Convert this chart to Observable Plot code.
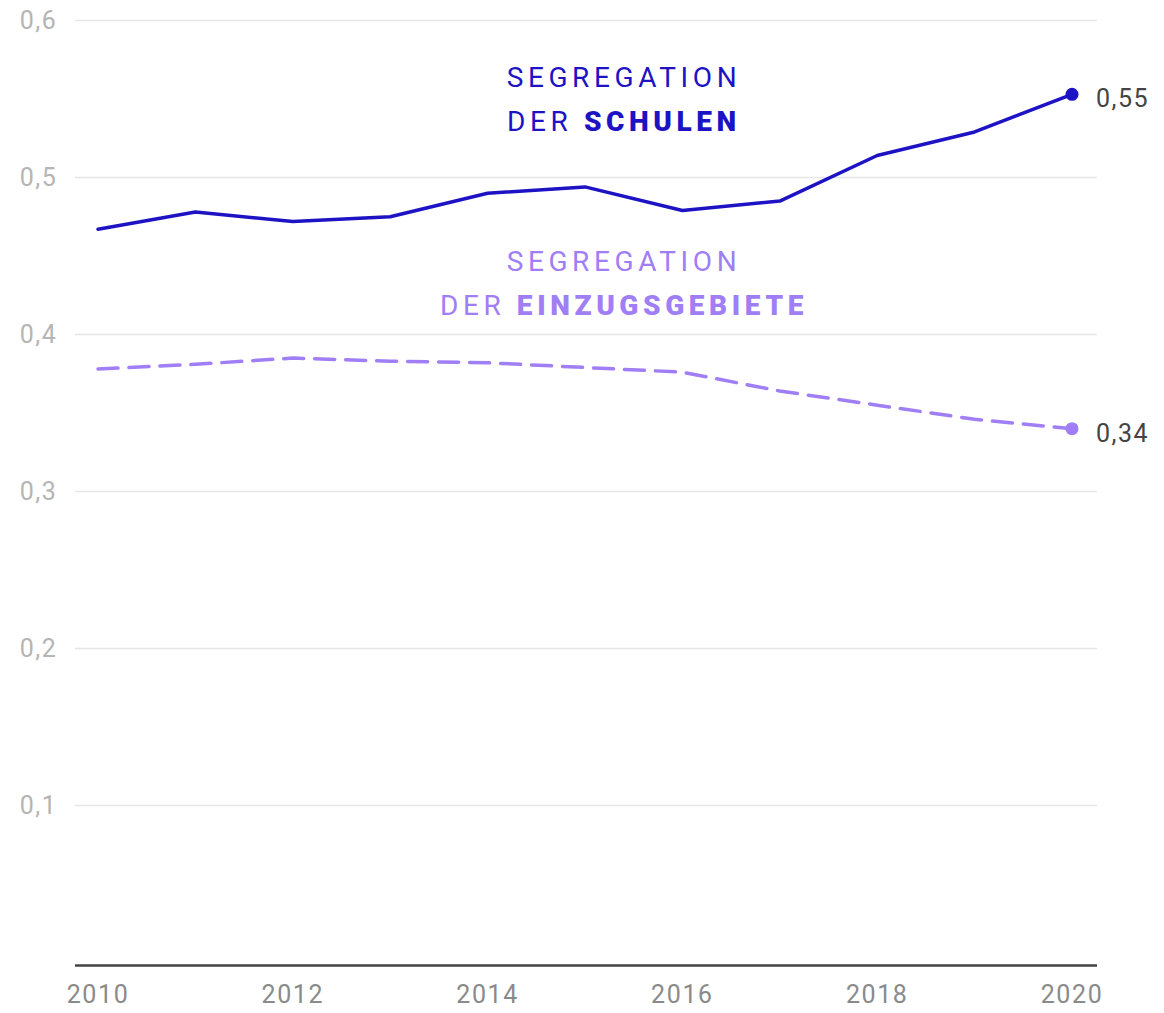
<!DOCTYPE html>
<html>
<head>
<meta charset="utf-8">
<script src="https://cdn.jsdelivr.net/npm/d3@7"></script>
<script src="https://cdn.jsdelivr.net/npm/@observablehq/plot@0.6"></script>
<style>
  html, body { margin: 0; padding: 0; background: #fff; }
  #chart svg { display: block; }
</style>
</head>
<body>
<div id="chart"></div>
<script>
const years = [2010, 2011, 2012, 2013, 2014, 2015, 2016, 2017, 2018, 2019, 2020];
const schools = [0.467, 0.478, 0.472, 0.475, 0.490, 0.494, 0.479, 0.485, 0.514, 0.529, 0.553];
const catchment = [0.378, 0.381, 0.385, 0.383, 0.382, 0.379, 0.376, 0.364, 0.355, 0.346, 0.340];
const yTicks = [0.1, 0.2, 0.3, 0.4, 0.5, 0.6];
const xTicks = [2010, 2012, 2014, 2016, 2018, 2020];
const seriesNames = ["Schulen", "Einzugsgebiete"];
const seriesColors = ["#1d13c4", "#a07ef5"];
const annotationLines = ["SEGREGATION\nDER SCHULEN", "SEGREGATION\nDER EINZUGSGEBIETE"];
const annotationX = [2015.4, 2015.4];
const annotationY = [0.5525, 0.4355];

const rows = [];
years.forEach((yr, i) => {
  rows.push({year: yr, value: schools[i], series: seriesNames[0]});
  rows.push({year: yr, value: catchment[i], series: seriesNames[1]});
});
const lastRows = rows.filter(d => d.year === years[years.length - 1]);
const annotations = seriesNames.map((s, i) => ({series: s, text: annotationLines[i], x: annotationX[i], y: annotationY[i]}));
const fmt = v => String(v).replace(".", ",");
const fmt2 = v => v.toFixed(2).replace(".", ",");
const colorOf = s => seriesColors[seriesNames.indexOf(s)];

const chart = Plot.plot({
  width: 1164,
  height: 1013,
  marginLeft: 75,
  marginRight: 67,
  marginTop: 20,
  marginBottom: 51,
  insetLeft: 22.5,
  insetRight: 25.5,
  x: {domain: [2010, 2020]},
  y: {domain: [0, 0.6]},
  style: {fontFamily: "Roboto, 'Liberation Sans', sans-serif", background: "#fff"},
  marks: [
    Plot.ruleY(yTicks, {stroke: "#e6e6e6", strokeWidth: 1.5}),
    Plot.ruleY([0], {stroke: "#444", strokeWidth: 2.5, dy: 3}),
    Plot.axisY(yTicks, {tickSize: 0, tickPadding: 18, tickFormat: fmt, fontSize: 25, fill: "#b5b5b5", label: null}),
    Plot.axisX(xTicks, {tickSize: 0, tickPadding: 23, tickFormat: d => String(d), fontSize: 25, fill: "#8a8a8a", label: null}),
    Plot.line(rows.filter(d => d.series === seriesNames[1]), {x: "year", y: "value", stroke: seriesColors[1], strokeWidth: 3.5, strokeDasharray: "20,11"}),
    Plot.line(rows.filter(d => d.series === seriesNames[0]), {x: "year", y: "value", stroke: seriesColors[0], strokeWidth: 3.5}),
    Plot.dot(lastRows, {x: "year", y: "value", r: 6.5, fill: d => colorOf(d.series), stroke: null}),
    Plot.text(lastRows, {x: "year", y: "value", text: d => fmt2(d.value), dx: 24, dy: 5, textAnchor: "start", fontSize: 25, fill: "#444"}),
    Plot.text(annotations, {x: "x", y: "y", text: "text", fill: d => colorOf(d.series), fontSize: 28, lineHeight: 1.58, textAnchor: "middle", lineAnchor: "middle"})
  ]
});

// make the second word of each annotation's second line bold
d3.select(chart).selectAll("tspan").each(function() {
  const t = this.textContent;
  if (t.startsWith("DER ") && !this.querySelector("tspan")) {
    const rest = t.slice(4);
    this.textContent = "DER ";
    d3.select(this).append("tspan").attr("font-weight", "900").text(rest);
  }
});
d3.select(chart).selectAll("text").filter(function() { return this.textContent.includes("SEGREGATION"); })
  .attr("letter-spacing", "4.6px");
d3.select(chart).selectAll("g[aria-label='x-axis tick label'] text, g[aria-label='y-axis tick label'] text")
  .attr("letter-spacing", "1.6px");
d3.select(chart).selectAll("text").filter(function() { return /^0,\d\d$/.test(this.textContent); })
  .attr("letter-spacing", "1.5px");

document.getElementById("chart").appendChild(chart);
</script>
</body>
</html>
